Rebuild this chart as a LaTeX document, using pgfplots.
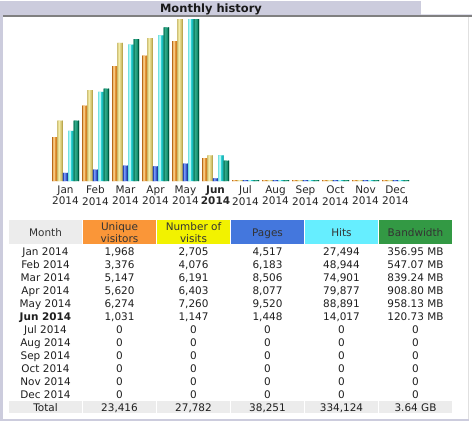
\documentclass[border=0pt]{standalone}
\usepackage{pgfplots}
\pgfplotsset{compat=1.18}
\usepackage{pgfplotstable}
\usepackage{fontspec}
\setmainfont{DejaVu Sans}
\definecolor{lav}{HTML}{CCCCDD}
\definecolor{hdgray}{HTML}{ECECEC}
\definecolor{hOr}{HTML}{FA9638}
\definecolor{hYe}{HTML}{F2F200}
\definecolor{hBl}{HTML}{4477DD}
\definecolor{hCy}{HTML}{66EEFF}
\definecolor{hGr}{HTML}{339944}
\pgfplotstableread{
m uv vi pg hi bw
0 1968 2705 4517 27494 356.95
1 3376 4076 6183 48944 547.07
2 5147 6191 8506 74901 839.24
3 5620 6403 8077 79877 908.80
4 6274 7260 9520 88891 958.13
5 1031 1147 1448 14017 120.73
6 0 0 0 0 0
7 0 0 0 0 0
8 0 0 0 0 0
9 0 0 0 0 0
10 0 0 0 0 0
11 0 0 0 0 0
}\data
\newcommand\tf{\fontsize{10.5}{11.7}\selectfont}
\tikzset{tx/.style={anchor=base, inner sep=0pt, font=\tf, text=black!88}}
\newcommand\row[7]{%
  \pgfmathsetmacro\yy{255.5+13*#1}%
  \node[tx] at (45.5,\yy) {#2};
  \node[tx] at (119.5,\yy) {#3};
  \node[tx] at (193.5,\yy) {#4};
  \node[tx] at (267.5,\yy) {#5};
  \node[tx] at (341.5,\yy) {#6};
  \node[tx] at (415.5,\yy) {#7};
}
% #1 column, #2 scale max, #3 c, #4 c-0.9, #5 c-2.25, #6 c+2.2, #7 base, #8 light, #9 left edge, #10 right edge
\newcommand\bars[6]{%
  \addplot[ybar, draw=none, fill=#4, bar width=5.4bp, bar shift=#3bp] table[x=m, y expr={max(\thisrow{#1}/#2,1/162)}] {\data};
  \addplot[ybar, draw=none, fill=#5, bar width=2.2bp, bar shift={#3bp-0.9bp}] table[x=m, y expr={max(\thisrow{#1}/#2,1/162)}] {\data};
  \addplot[ybar, draw=none, fill=#6, bar width=1bp, bar shift={#3bp-2.2bp}] table[x=m, y expr={max(\thisrow{#1}/#2,1/162)}] {\data};
}
\newcommand\rbar[4]{%
  \addplot[ybar, draw=none, fill=#4, bar width=1bp, bar shift={#3bp+2.2bp}] table[x=m, y expr={max(\thisrow{#1}/#2,1/162)}] {\data};
}
\begin{document}
\begin{tikzpicture}
\begin{scope}[x=1bp,y=-1bp]
\path[use as bounding box] (0,0) rectangle (472,423);
\fill[white] (0,0) rectangle (472,423);
% frame
\fill[lav] (0,1) rectangle (421,15);
\fill[lav!60] (421,14.3) rectangle (472,15);
\fill[black!50] (3,15) rectangle (472,16.5);
\fill[lav] (0,15) rectangle (3,421);
\fill[lav] (0,419) rectangle (469,421);
\fill[black!12] (468,16.5) rectangle (469,419);
\node[anchor=base, inner sep=0pt, font=\fontsize{11.5}{13}\selectfont\bfseries, text=black!90] at (211,12.5) {Monthly history};
% table header
\fill[hdgray] (9,220) rectangle (82,244);
\fill[hOr] (83,220) rectangle (156,244);
\fill[hYe] (157,220) rectangle (230,244);
\fill[hBl] (231,220) rectangle (304,244);
\fill[hCy] (305,220) rectangle (378,244);
\fill[hGr] (379,220) rectangle (452,244);
\node[tx, text=black!80] at (45.5,236.5) {Month};
\node[tx, text=black!80] at (119.5,230.5) {Unique};
\node[tx, text=black!80] at (119.5,242.5) {visitors};
\node[tx, text=black!80] at (193.5,230.5) {Number of};
\node[tx, text=black!80] at (193.5,242.5) {visits};
\node[tx, text=black!80] at (267.5,236.5) {Pages};
\node[tx, text=black!80] at (341.5,236.5) {Hits};
\node[tx, text=black!80] at (415.5,236.5) {Bandwidth};
% rows
\row{0}{Jan 2014}{1,968}{2,705}{4,517}{27,494}{356.95 MB}
\row{1}{Feb 2014}{3,376}{4,076}{6,183}{48,944}{547.07 MB}
\row{2}{Mar 2014}{5,147}{6,191}{8,506}{74,901}{839.24 MB}
\row{3}{Apr 2014}{5,620}{6,403}{8,077}{79,877}{908.80 MB}
\row{4}{May 2014}{6,274}{7,260}{9,520}{88,891}{958.13 MB}
\row{5}{\textbf{Jun 2014}}{1,031}{1,147}{1,448}{14,017}{120.73 MB}
\row{6}{Jul 2014}{0}{0}{0}{0}{0}
\row{7}{Aug 2014}{0}{0}{0}{0}{0}
\row{8}{Sep 2014}{0}{0}{0}{0}{0}
\row{9}{Oct 2014}{0}{0}{0}{0}{0}
\row{10}{Nov 2014}{0}{0}{0}{0}{0}
\row{11}{Dec 2014}{0}{0}{0}{0}{0}
% total row
\foreach \xa/\xb in {9/82,83/156,157/230,231/304,305/378,379/452}
  \fill[hdgray] (\xa,401) rectangle (\xb,413);
\node[tx] at (45.5,411) {Total};
\node[tx] at (119.5,411) {23,416};
\node[tx] at (193.5,411) {27,782};
\node[tx] at (267.5,411) {38,251};
\node[tx] at (341.5,411) {334,124};
\node[tx] at (415.5,411) {3.64 GB};
\end{scope}
\begin{axis}[
  at={(50.5bp,-181bp)}, anchor=south west,
  scale only axis, width=360bp, height=162bp,
  xmin=-0.5, xmax=11.5, ymin=0, ymax=1,
  axis line style={draw=none}, major tick length=0pt,
  ytick=\empty, xtick={0,...,11},
  xticklabels={{Jan\\2014},{Feb\\2014},{Mar\\2014},{Apr\\2014},{May\\2014},{\textbf{Jun}\\\textbf{2014}},{Jul\\2014},{Aug\\2014},{Sep\\2014},{Oct\\2014},{Nov\\2014},{Dec\\2014}},
  xticklabel style={font=\tf, align=center, inner sep=0pt, anchor=north, yshift=-4.5bp, text=black!85},
  clip=false,
]
\definecolor{orB}{HTML}{E49538}\definecolor{orLi}{HTML}{F8C880}\definecolor{orD}{HTML}{B86818}\definecolor{orD2}{HTML}{C8781E}
\definecolor{yeB}{HTML}{D8CA78}\definecolor{yeLi}{HTML}{F4ECA8}\definecolor{yeD}{HTML}{C4B460}\definecolor{yeD2}{HTML}{BBA850}
\definecolor{blB}{HTML}{3A5CD0}\definecolor{blLi}{HTML}{7898F4}\definecolor{blD}{HTML}{2848B8}\definecolor{blD2}{HTML}{2040A0}
\definecolor{cyB}{HTML}{20CCCC}\definecolor{cyLi}{HTML}{B0F6F6}\definecolor{cyD}{HTML}{70E0E0}\definecolor{cyD2}{HTML}{109CA4}
\definecolor{grB}{HTML}{149070}\definecolor{grLi}{HTML}{30A888}\definecolor{grD}{HTML}{0C7858}\definecolor{grD2}{HTML}{005C40}
\bars{uv}{7260}{-10.8}{orB}{orLi}{orD}
\rbar{uv}{7260}{-10.8}{orD2}
\bars{vi}{7260}{-5.4}{yeB}{yeLi}{yeD}
\rbar{vi}{7260}{-5.4}{yeD2}
\bars{pg}{88891}{0}{blB}{blLi}{blD}
\rbar{pg}{88891}{0}{blD2}
\bars{hi}{88891}{5.4}{cyB}{cyLi}{cyD}
\rbar{hi}{88891}{5.4}{cyD2}
\bars{bw}{958.13}{10.8}{grB}{grLi}{grD}
\rbar{bw}{958.13}{10.8}{grD2}
\end{axis}
\end{tikzpicture}
\end{document}
